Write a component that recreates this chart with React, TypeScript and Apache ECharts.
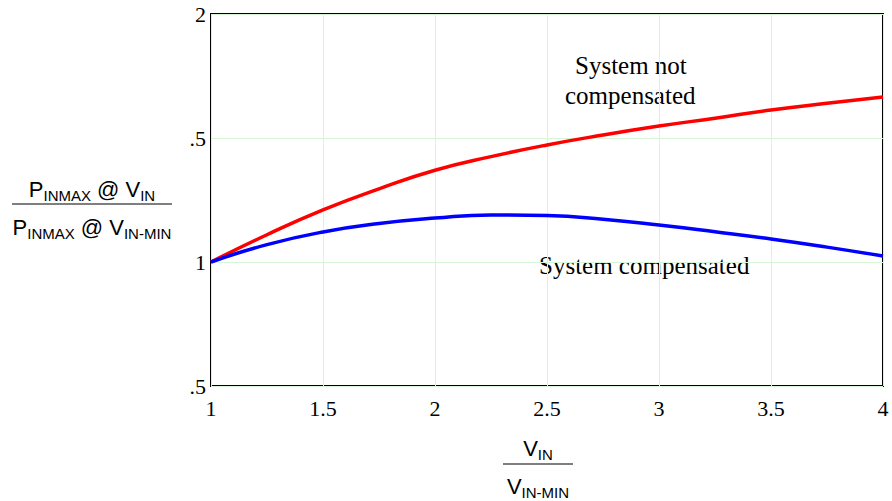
import React, { useEffect, useRef } from "react";
import * as echarts from "echarts";

const xValues = [1, 1.25, 1.5, 1.75, 2, 2.25, 2.5, 2.75, 3, 3.25, 3.5, 3.75, 4];
const notCompensated = [1.0, 1.11, 1.21, 1.295, 1.37, 1.425, 1.472, 1.512, 1.548, 1.58, 1.613, 1.64, 1.665];
const compensated = [1.0, 1.07, 1.121, 1.155, 1.177, 1.19, 1.187, 1.172, 1.149, 1.122, 1.093, 1.06, 1.024];
const yTickValues = [0.5, 1, 1.5, 2];
const yTickLabels = [".5", "1", ".5", "2"];
const xTickLabels = ["1", "1.5", "2", "2.5", "3", "3.5", "4"];

const serif = "'Liberation Serif', 'Times New Roman', serif";
const sans = "'Liberation Sans', Arial, sans-serif";

export default function App() {
  const ref = useRef<HTMLDivElement>(null);
  useEffect(() => {
    if (!ref.current) return;
    const chart = echarts.init(ref.current, null, { renderer: "svg" });
    const subRich = {
      big: { fontFamily: sans, fontSize: 22, color: "#000", verticalAlign: "bottom" },
      sub: { fontFamily: sans, fontSize: 15, color: "#000", verticalAlign: "bottom", padding: [0, 0, -3, 0] },
    };
    chart.setOption({
      animation: false,
      backgroundColor: "#fff",
      grid: {
        left: 211,
        right: 9,
        top: 14,
        bottom: 115,
        show: true,
        borderColor: "#000",
        borderWidth: 2,
        backgroundColor: "transparent",
      },
      xAxis: {
        type: "value",
        min: 1,
        max: 4,
        interval: 0.5,
        axisLine: { show: false },
        axisTick: { show: false },
        splitLine: { show: true, lineStyle: { color: "#d8f5d8", width: 1 } },
        axisLabel: {
          fontFamily: serif,
          fontSize: 22,
          color: "#000",
          margin: 11,
          formatter: (v: number) => {
            const i = Math.round((v - 1) / 0.5);
            return xTickLabels[i] ?? "";
          },
        },
      },
      yAxis: {
        type: "value",
        min: 0.5,
        max: 2,
        interval: 0.5,
        axisLine: { show: false },
        axisTick: { show: false },
        splitLine: { show: true, lineStyle: { color: "#d8f5d8", width: 1 } },
        axisLabel: {
          fontFamily: serif,
          fontSize: 22,
          color: "#000",
          margin: 5,
          formatter: (v: number) => {
            const i = yTickValues.findIndex((t) => Math.abs(t - v) < 1e-6);
            return i >= 0 ? yTickLabels[i] : "";
          },
        },
      },
      series: [
        {
          name: "System not compensated",
          type: "line",
          data: xValues.map((x, i) => [x, notCompensated[i]]),
          smooth: true,
          showSymbol: false,
          lineStyle: { color: "#ff0000", width: 3.5 },
          z: 3,
        },
        {
          name: "System compensated",
          type: "line",
          data: xValues.map((x, i) => [x, compensated[i]]),
          smooth: true,
          showSymbol: false,
          lineStyle: { color: "#0000ff", width: 3.5 },
          z: 4,
        },
      ],
      graphic: [
        {
          type: "text",
          left: 575,
          top: 53,
          style: { text: "System not", fontFamily: serif, fontSize: 25, fill: "#000" },
        },
        {
          type: "text",
          left: 565,
          top: 83,
          style: { text: "compensated", fontFamily: serif, fontSize: 25, fill: "#000" },
        },
        {
          type: "text",
          left: 539,
          top: 253,
          style: { text: "System compensated", fontFamily: serif, fontSize: 25, fill: "#000" },
        },
        {
          type: "text",
          x: 92,
          y: 200,
          style: {
            text: "{big|P}{sub|INMAX}{big| @ V}{sub|IN}",
            rich: subRich,
            align: "center",
            verticalAlign: "bottom",
          },
        },
        {
          type: "line",
          shape: { x1: 12, y1: 204, x2: 172, y2: 204 },
          style: { stroke: "#555", lineWidth: 1.5 },
        },
        {
          type: "text",
          x: 92,
          y: 238,
          style: {
            text: "{big|P}{sub|INMAX}{big| @ V}{sub|IN-MIN}",
            rich: subRich,
            align: "center",
            verticalAlign: "bottom",
          },
        },
        {
          type: "text",
          x: 538,
          y: 459,
          style: {
            text: "{big|V}{sub|IN}",
            rich: subRich,
            align: "center",
            verticalAlign: "bottom",
          },
        },
        {
          type: "line",
          shape: { x1: 503, y1: 464, x2: 573, y2: 464 },
          style: { stroke: "#555", lineWidth: 1.5 },
        },
        {
          type: "text",
          x: 538,
          y: 497,
          style: {
            text: "{big|V}{sub|IN-MIN}",
            rich: subRich,
            align: "center",
            verticalAlign: "bottom",
          },
        },
      ],
    });
    return () => chart.dispose();
  }, []);
  return <div ref={ref} style={{ width: 892, height: 501, position: "absolute", left: 0, top: 0 }} />;
}
